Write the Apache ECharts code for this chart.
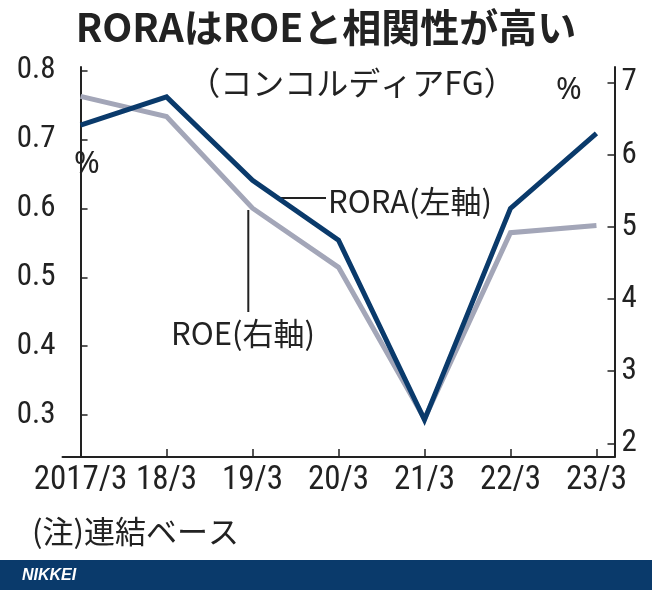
<!DOCTYPE html>
<html>
<head>
<meta charset="utf-8">
<script src="https://cdn.jsdelivr.net/npm/echarts@6/dist/echarts.min.js"></script>
<style>
  html, body { margin: 0; padding: 0; background: #fff; }
  #chart { width: 652px; height: 590px; }
</style>
</head>
<body>
<div id="chart"></div>
<script>
// 年度(3月期)
var categories = ['2017/3', '18/3', '19/3', '20/3', '21/3', '22/3', '23/3'];
// RORA(左軸, %)
var roraValues = [0.721, 0.762, 0.641, 0.554, 0.293, 0.600, 0.709];
// ROE(右軸, %)
var roeValues = [6.81, 6.53, 5.26, 4.44, 2.34, 4.92, 5.02];
var leftTicks = [0.3, 0.4, 0.5, 0.6, 0.7, 0.8];
var rightTicks = [2, 3, 4, 5, 6, 7];

var numFont = '"Liberation Sans Narrow", "Roboto Condensed", "DejaVu Sans Condensed", sans-serif';
var jpFont = '"Noto Sans CJK JP", "Noto Sans", sans-serif';
var navy = '#0a3a6b';
var grey = '#a3a6b8';
var ink = '#222';

function toPairs(vals) {
    var res = [];
    for (var i = 0; i < vals.length; i++) {
        res.push([i, vals[i]]);
    }
    return res;
}
var catIdx = categories.map(function (c, i) { return i; });

var chart = echarts.init(document.getElementById('chart'));

var option = {
    backgroundColor: '#fff',
    animation: false,
    grid: { left: 62.5, right: 37.5, top: 67, bottom: 133 },
    xAxis: {
        type: 'value',
        min: -0.21,
        max: 6.21,
        axisLine: { show: true, onZero: false, lineStyle: { color: ink, width: 2 } },
        axisTick: { show: true, inside: true, length: 8, customValues: catIdx, lineStyle: { color: ink, width: 1.5 } },
        axisLabel: {
            customValues: catIdx,
            margin: 7,
            color: ink,
            fontFamily: numFont,
            fontSize: 33,
            formatter: function (v) { return categories[Math.round(v)]; }
        },
        splitLine: { show: false }
    },
    yAxis: [{
        type: 'value',
        position: 'left',
        min: 0.239,
        max: 0.8054,
        axisLine: { show: true, lineStyle: { color: ink, width: 2 } },
        axisTick: { show: true, inside: true, length: 7, customValues: leftTicks, lineStyle: { color: ink, width: 1.5 } },
        axisLabel: {
            customValues: leftTicks,
            margin: 7,
            color: ink,
            fontFamily: numFont,
            fontSize: 31,
            formatter: function (v) { return v.toFixed(1); }
        },
        splitLine: { show: false }
    }, {
        type: 'value',
        position: 'right',
        min: 1.81,
        max: 7.218,
        axisLine: { show: true, lineStyle: { color: ink, width: 2 } },
        axisTick: { show: true, inside: true, length: 7, customValues: rightTicks, lineStyle: { color: ink, width: 1.5 } },
        axisLabel: {
            customValues: rightTicks,
            margin: 7,
            color: ink,
            fontFamily: numFont,
            fontSize: 31,
            formatter: function (v) { return String(Math.round(v)); }
        },
        splitLine: { show: false }
    }],
    series: [{
        name: 'ROE',
        type: 'line',
        yAxisIndex: 1,
        data: toPairs(roeValues),
        symbol: 'none',
        lineStyle: { color: grey, width: 5, join: 'miter' },
        z: 2
    }, {
        name: 'RORA',
        type: 'line',
        yAxisIndex: 0,
        data: toPairs(roraValues),
        symbol: 'none',
        lineStyle: { color: navy, width: 5, join: 'miter' },
        z: 3
    }],
    graphic: [
        { type: 'text', left: 'center', top: 8,
          style: { text: 'RORAはROEと相関性が高い', fill: ink, font: 'bold 39px ' + jpFont } },
        { type: 'text', x: 352, y: 83,
          style: { text: '（コンコルディアFG）', fill: ink, font: '32px ' + jpFont, align: 'center', verticalAlign: 'middle' } },
        { type: 'text', x: 74, y: 164,
          style: { text: '%', fill: ink, font: '31px "Noto Sans", sans-serif', verticalAlign: 'middle' } },
        { type: 'text', x: 556, y: 90,
          style: { text: '%', fill: ink, font: '31px "Noto Sans", sans-serif', verticalAlign: 'middle' } },
        { type: 'line', shape: { x1: 278, y1: 198, x2: 326, y2: 198 },
          style: { stroke: ink, lineWidth: 2 }, z: 1 },
        { type: 'text', x: 328, y: 201,
          style: { text: 'RORA(左軸)', fill: ink, font: '31px ' + jpFont, verticalAlign: 'middle' } },
        { type: 'line', shape: { x1: 248.3, y1: 210, x2: 248.3, y2: 312 },
          style: { stroke: ink, lineWidth: 2 }, z: 1 },
        { type: 'text', x: 171, y: 333,
          style: { text: 'ROE(右軸)', fill: ink, font: '31px ' + jpFont, verticalAlign: 'middle' } },
        { type: 'text', x: 32, y: 531,
          style: { text: '(注)連結ベース', fill: ink, font: '31px ' + jpFont, verticalAlign: 'middle' } },
        { type: 'rect', shape: { x: 0, y: 560, width: 652, height: 30 },
          style: { fill: navy } },
        { type: 'text', x: 22, y: 576,
          style: { text: 'NIKKEI', fill: '#fff', font: 'italic bold 16px "Liberation Sans", sans-serif', verticalAlign: 'middle' } }
    ]
};
chart.setOption(option);
</script>
</body>
</html>
